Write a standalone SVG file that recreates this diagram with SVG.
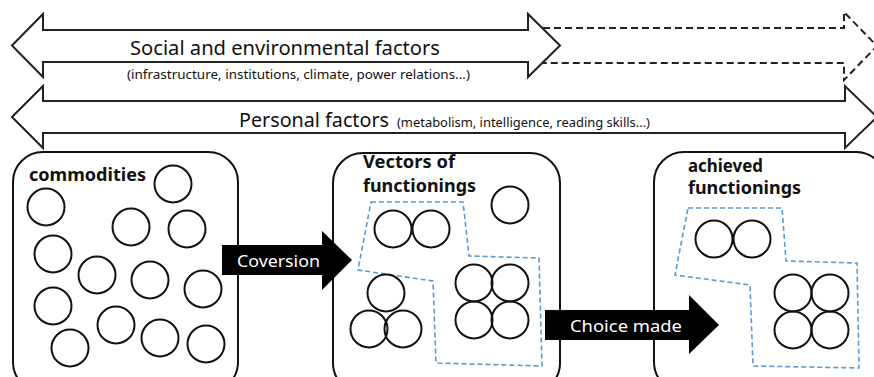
<svg xmlns="http://www.w3.org/2000/svg" width="874" height="377" viewBox="0 0 874 377">
<style>
.arr{fill:#fff;stroke:#222;stroke-width:2;stroke-linejoin:miter}
.dash{fill:none;stroke:#222;stroke-width:2;stroke-dasharray:7,4}
.box{fill:#fff;stroke:#111;stroke-width:2}
.c{fill:none;stroke:#111;stroke-width:2}
.grp{fill:none;stroke:#5b9bd5;stroke-width:1.6;stroke-dasharray:5,3}
.blk{fill:#000}
.t{font-family:"Noto Sans","Open Sans","DejaVu Sans",sans-serif;fill:#111}
.big{font-size:19px}
.sm{font-size:12.5px}
.bold{font-size:17px;font-weight:bold}
.w{font-family:"Noto Sans","Open Sans","DejaVu Sans",sans-serif;fill:#fff;font-size:17px}
</style>
<g id="social-factors">
<polygon class="arr" points="12,45.5 43,14 43,30 528,30 528,14 560,45.5 528,77 528,62 43,62 43,77"/>
<path class="dash" d="M543,28 H844 V12 L877,46 L844,80 V63 H543"/>
<text class="t big" x="130" y="55" textLength="310" lengthAdjust="spacingAndGlyphs">Social and environmental factors</text>
<text class="t sm" x="127" y="79" textLength="343" lengthAdjust="spacingAndGlyphs">(infrastructure, institutions, climate, power relations...)</text>
</g>
<g id="personal-factors">
<polygon class="arr" points="12,117 43,86 43,101 845,101 845,86 877,117 845,148 845,133 43,133 43,148"/>
<text class="t big" x="239" y="127" textLength="150" lengthAdjust="spacingAndGlyphs">Personal factors</text>
<text class="t sm" x="397" y="127" textLength="253" lengthAdjust="spacingAndGlyphs">(metabolism, intelligence, reading skills...)</text>
</g>
<g id="commodities">
<rect class="box" x="13" y="152" width="225" height="240" rx="30"/>
<text class="t bold" x="29" y="181" textLength="117" lengthAdjust="spacingAndGlyphs">commodities</text>
<circle class="c" cx="173" cy="184" r="18.5"/>
<circle class="c" cx="46" cy="207" r="18.5"/>
<circle class="c" cx="131" cy="227" r="18.5"/>
<circle class="c" cx="187" cy="229" r="18.5"/>
<circle class="c" cx="53" cy="254" r="18.5"/>
<circle class="c" cx="97" cy="275" r="18.5"/>
<circle class="c" cx="150" cy="280" r="18.5"/>
<circle class="c" cx="203" cy="289" r="18.5"/>
<circle class="c" cx="53" cy="306" r="18.5"/>
<circle class="c" cx="116" cy="325" r="18.5"/>
<circle class="c" cx="160" cy="338" r="18.5"/>
<circle class="c" cx="70" cy="348" r="18.5"/>
<circle class="c" cx="206" cy="344" r="18.5"/>
</g>
<g id="vectors">
<rect class="box" x="333" y="153" width="227" height="240" rx="30"/>
<text class="t bold" x="363" y="168" textLength="92" lengthAdjust="spacingAndGlyphs">Vectors of</text>
<text class="t bold" x="363" y="192" textLength="113" lengthAdjust="spacingAndGlyphs">functionings</text>
<polygon class="grp" points="371,202 463,202 469,256 539,258 542,366 436,363 433,281 358,270"/>
<circle class="c" cx="510" cy="205" r="18.5"/>
<circle class="c" cx="393" cy="229" r="18.5"/>
<circle class="c" cx="431" cy="229" r="18.5"/>
<circle class="c" cx="386" cy="293" r="18.5"/>
<circle class="c" cx="369" cy="329" r="18.5"/>
<circle class="c" cx="403" cy="329" r="18.5"/>
<circle class="c" cx="474" cy="283" r="18.5"/>
<circle class="c" cx="510" cy="283" r="18.5"/>
<circle class="c" cx="474" cy="320" r="18.5"/>
<circle class="c" cx="510" cy="320" r="18.5"/>
</g>
<g id="achieved">
<rect class="box" x="654" y="152" width="232" height="240" rx="30"/>
<text class="t bold" x="688" y="172" textLength="75" lengthAdjust="spacingAndGlyphs">achieved</text>
<text class="t bold" x="688" y="194" textLength="113" lengthAdjust="spacingAndGlyphs">functionings</text>
<polygon class="grp" points="688,208 782,208 786,261 857,263 859,368 753,366 750,285 675,275"/>
<circle class="c" cx="714" cy="239" r="18.5"/>
<circle class="c" cx="752" cy="239" r="18.5"/>
<circle class="c" cx="793" cy="293" r="18.5"/>
<circle class="c" cx="830" cy="293" r="18.5"/>
<circle class="c" cx="793" cy="330" r="18.5"/>
<circle class="c" cx="830" cy="330" r="18.5"/>
</g>
<g id="connectors">
<g id="conversion">
<polygon class="blk" points="222,245 322,245 322,231 352,260 322,290 322,275 222,275"/>
<text class="w" x="237" y="267" textLength="83" lengthAdjust="spacingAndGlyphs">Coversion</text>
</g>
<g id="choice">
<polygon class="blk" points="545,310 689,310 689,295 719,325 689,354 689,340 545,340"/>
<text class="w" x="570" y="332" textLength="112" lengthAdjust="spacingAndGlyphs">Choice made</text>
</g>
</g>
</svg>
